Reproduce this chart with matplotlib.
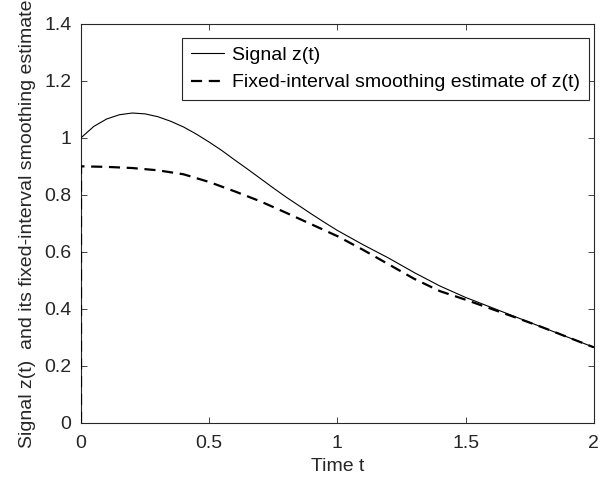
import numpy as np
import matplotlib
matplotlib.use('Agg')
import matplotlib.pyplot as plt

plt.rcParams['font.family'] = ['Liberation Sans', 'DejaVu Sans']

# values
t_sig = [0.0, 0.05, 0.1, 0.15, 0.2, 0.25, 0.3, 0.35, 0.4, 0.45, 0.5, 0.55,
         0.6, 0.65, 0.7, 0.75, 0.8, 0.85, 0.9, 0.95, 1.0, 1.1, 1.2, 1.3, 1.4,
         1.5, 1.6, 1.7, 1.8, 1.9, 2.0]
z_sig = [1.000, 1.040, 1.066, 1.081, 1.087, 1.084, 1.074, 1.058, 1.038, 1.013,
         0.985, 0.955, 0.922, 0.890, 0.857, 0.824, 0.792, 0.762, 0.732, 0.703,
         0.675, 0.625, 0.578, 0.527, 0.480, 0.440, 0.405, 0.370, 0.335, 0.300,
         0.265]

t_est = [0.0, 0.0, 0.1, 0.2, 0.3, 0.4, 0.5, 0.6, 0.7, 0.8, 0.9,
         1.0, 1.1, 1.2, 1.3, 1.4, 1.5, 1.6, 1.7, 1.8, 1.9, 2.0]
z_est = [0.0, 0.900, 0.898, 0.894, 0.886, 0.872, 0.845, 0.812, 0.777, 0.737,
         0.696, 0.655, 0.607, 0.556, 0.505, 0.462, 0.432, 0.400, 0.368, 0.335,
         0.300, 0.265]

xticks = [0, 0.5, 1, 1.5, 2]
xtick_labels = ['0', '0.5', '1', '1.5', '2']
yticks = [0, 0.2, 0.4, 0.6, 0.8, 1, 1.2, 1.4]
ytick_labels = ['0', '0.2', '0.4', '0.6', '0.8', '1', '1.2', '1.4']

fig = plt.figure(figsize=(6.09, 4.86), dpi=100)
ax = fig.add_axes([0.133, 0.130, 0.842, 0.821])

ax.plot(t_sig, z_sig, color='black', linewidth=0.8, label='Signal z(t)',
        zorder=3)
ax.plot(t_est, z_est, color='black', linewidth=1.6, linestyle=(0, (5, 3)),
        label='Fixed-interval smoothing estimate of z(t)', zorder=3)

ax.set_xlim(0, 2)
ax.set_ylim(0, 1.4)
ax.set_xticks(xticks)
ax.set_xticklabels(xtick_labels)
ax.set_yticks(yticks)
ax.set_yticklabels(ytick_labels)
ax.tick_params(direction='in', top=True, right=True, length=4, width=0.6,
               labelsize=14, colors='#262626')
ax.tick_params(axis='x', pad=9)
ax.tick_params(axis='y', pad=7)
for s in ax.spines.values():
    s.set_linewidth(0.8)
    s.set_color('#262626')

ax.set_xlabel('Time t', fontsize=14, color='#262626', labelpad=4)
ax.set_ylabel('Signal z(t)  and its fixed-interval smoothing estimate',
              fontsize=14, color='#262626', labelpad=6)

leg = ax.legend(loc='upper right', bbox_to_anchor=(0.990, 0.965),
                borderaxespad=0, fontsize=14, fancybox=False,
                edgecolor='#262626', framealpha=1, handlelength=1.7,
                handletextpad=0.4, borderpad=0.45, labelspacing=0.5)
leg.get_frame().set_linewidth(0.8)

fig.savefig('out.png', dpi=100)
